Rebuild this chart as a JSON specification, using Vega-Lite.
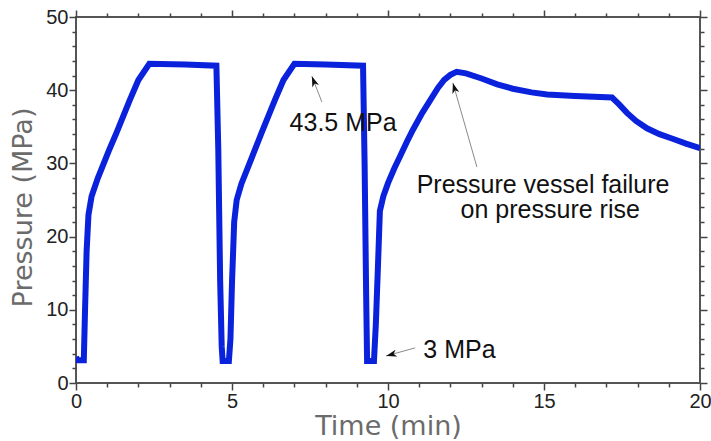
{
  "$schema": "https://vega.github.io/schema/vega-lite/v6.json",
  "width": 624,
  "height": 366,
  "autosize": "none",
  "padding": {"left": 76, "top": 17, "right": 11, "bottom": 58},
  "background": "white",
  "config": {
    "view": {"stroke": "#555555", "strokeWidth": 2},
    "axis": {
      "domain": false,
      "grid": false,
      "labelFont": "Liberation Sans",
      "labelFontSize": 20,
      "labelColor": "#222222",
      "titleFont": "DejaVu Sans",
      "titleFontSize": 27,
      "titleFontWeight": "normal",
      "titleColor": "#6b6b6b",
      "labelOverlap": false,
      "labelFlush": false
    }
  },
  "datasets": {
    "pressure": [
      {"t": 0, "p": 3.6}, {"t": 0.04, "p": 3.1}, {"t": 0.25, "p": 3.1}, {"t": 0.29, "p": 10},
      {"t": 0.34, "p": 18}, {"t": 0.4, "p": 23}, {"t": 0.5, "p": 25.5}, {"t": 0.7, "p": 28},
      {"t": 1.06, "p": 31.8}, {"t": 1.3, "p": 34.2}, {"t": 1.73, "p": 38.7}, {"t": 2.0, "p": 41.4},
      {"t": 2.35, "p": 43.6}, {"t": 3.5, "p": 43.5}, {"t": 4.5, "p": 43.35}, {"t": 4.56, "p": 32},
      {"t": 4.62, "p": 14}, {"t": 4.67, "p": 5}, {"t": 4.7, "p": 3.0}, {"t": 4.9, "p": 3.0},
      {"t": 4.95, "p": 6}, {"t": 5.0, "p": 13.7}, {"t": 5.07, "p": 22}, {"t": 5.15, "p": 25},
      {"t": 5.3, "p": 27.2}, {"t": 5.71, "p": 31.6}, {"t": 5.95, "p": 34.2}, {"t": 6.38, "p": 38.7},
      {"t": 6.65, "p": 41.4}, {"t": 7.0, "p": 43.6}, {"t": 8.0, "p": 43.5}, {"t": 9.2, "p": 43.35},
      {"t": 9.25, "p": 30}, {"t": 9.3, "p": 12}, {"t": 9.33, "p": 3.0}, {"t": 9.55, "p": 3.0},
      {"t": 9.61, "p": 8}, {"t": 9.67, "p": 15}, {"t": 9.74, "p": 23.5}, {"t": 9.85, "p": 25.5},
      {"t": 10.0, "p": 27.3}, {"t": 10.2, "p": 29.3}, {"t": 10.38, "p": 30.9}, {"t": 10.6, "p": 32.9},
      {"t": 10.8, "p": 34.6}, {"t": 11.1, "p": 36.9}, {"t": 11.35, "p": 38.6},
      {"t": 11.6, "p": 40.3}, {"t": 11.8, "p": 41.4}, {"t": 12.0, "p": 42.1}, {"t": 12.2, "p": 42.5}, {"t": 12.5, "p": 42.3},
      {"t": 13.0, "p": 41.6}, {"t": 13.5, "p": 40.8}, {"t": 14.0, "p": 40.2}, {"t": 14.6, "p": 39.7},
      {"t": 15.1, "p": 39.4}, {"t": 16.0, "p": 39.2}, {"t": 17.18, "p": 39.0}, {"t": 17.4, "p": 38.1},
      {"t": 17.66, "p": 36.9}, {"t": 17.95, "p": 35.8}, {"t": 18.3, "p": 34.8}, {"t": 18.7, "p": 34.0},
      {"t": 19.1, "p": 33.4}, {"t": 19.55, "p": 32.7}, {"t": 20.0, "p": 32.1}
    ],
    "arrows": [
      {"name": "a", "t0": 7.88, "p0": 38.4, "t1": 7.56, "p1": 41.9},
      {"name": "b", "t0": 12.85, "p0": 29.5, "t1": 12.08, "p1": 41.0},
      {"name": "c", "t0": 10.87, "p0": 4.8, "t1": 9.94, "p1": 3.7}
    ],
    "notes": [
      {"t": 8.56, "p": 34.4, "text": "43.5 MPa"},
      {"t": 14.97, "p": 26.0, "text": "Pressure vessel failure"},
      {"t": 15.2, "p": 22.5, "text": "on pressure rise"},
      {"t": 12.29, "p": 3.4, "text": "3 MPa"}
    ]
  },
  "layer": [
    {
      "data": {"name": "pressure"},
      "mark": {"type": "line", "color": "#0a22dc", "strokeWidth": 6, "strokeJoin": "miter", "clip": true},
      "encoding": {
        "x": {
          "field": "t", "type": "quantitative",
          "scale": {"domain": [0, 20], "nice": false, "zero": false},
          "axis": {
            "orient": "bottom",
            "values": [0, 5, 10, 15, 20],
            "ticks": true, "tickColor": "#444444", "tickWidth": 1.5,
            "tickSize": 7, "labelPadding": 1,
            "title": "Time (min)", "titleY": 51, "titleBaseline": "alphabetic"
          }
        },
        "y": {
          "field": "p", "type": "quantitative",
          "scale": {"domain": [0, 50], "nice": false, "zero": false},
          "axis": {
            "orient": "left",
            "values": [0, 10, 20, 30, 40, 50],
            "ticks": true, "tickColor": "#444444", "tickWidth": 1.5,
            "tickSize": 7, "labelPadding": 1,
            "title": "Pressure (MPa)", "titleX": -45, "titleY": 190, "titleBaseline": "alphabetic"
          }
        }
      }
    },
    {
      "data": {"name": "arrows"},
      "mark": {"type": "rule", "color": "#8a8a8a", "strokeWidth": 1},
      "encoding": {
        "x": {
          "field": "t0", "type": "quantitative",
          "axis": {"orient": "top", "values": [0, 5, 10, 15, 20], "labels": false, "ticks": true, "tickColor": "#444444", "tickWidth": 1.5, "tickSize": 7, "title": null}
        },
        "y": {
          "field": "p0", "type": "quantitative",
          "axis": {"orient": "right", "values": [0, 10, 20, 30, 40, 50], "labels": false, "ticks": true, "tickColor": "#444444", "tickWidth": 1.5, "tickSize": 7, "title": null}
        },
        "x2": {"field": "t1"},
        "y2": {"field": "p1"}
      }
    },
    {
      "data": {"name": "arrows"},
      "transform": [{"filter": "datum.name === 'a'"}],
      "mark": {"type": "point", "shape": "M0,0L-0.5,1.5L0,1.1L0.5,1.5Z", "filled": true, "color": "#111111", "opacity": 1, "size": 200, "angle": -21},
      "encoding": {
        "x": {
          "field": "t1", "type": "quantitative",
          "axis": {"orient": "bottom", "values": [1,2,3,4,6,7,8,9,11,12,13,14,16,17,18,19], "labels": false, "ticks": true, "tickColor": "#444444", "tickWidth": 1.5, "tickSize": 4, "title": null}
        },
        "y": {
          "field": "p1", "type": "quantitative",
          "axis": {"orient": "left", "values": [2,4,6,8,12,14,16,18,22,24,26,28,32,34,36,38,42,44,46,48], "labels": false, "ticks": true, "tickColor": "#444444", "tickWidth": 1.5, "tickSize": 4, "title": null}
        }
      }
    },
    {
      "data": {"name": "arrows"},
      "transform": [{"filter": "datum.name === 'b'"}],
      "mark": {"type": "point", "shape": "M0,0L-0.5,1.5L0,1.1L0.5,1.5Z", "filled": true, "color": "#111111", "opacity": 1, "size": 200, "angle": -16},
      "encoding": {
        "x": {
          "field": "t1", "type": "quantitative",
          "axis": {"orient": "top", "values": [1,2,3,4,6,7,8,9,11,12,13,14,16,17,18,19], "labels": false, "ticks": true, "tickColor": "#444444", "tickWidth": 1.5, "tickSize": 4, "title": null}
        },
        "y": {
          "field": "p1", "type": "quantitative",
          "axis": {"orient": "right", "values": [2,4,6,8,12,14,16,18,22,24,26,28,32,34,36,38,42,44,46,48], "labels": false, "ticks": true, "tickColor": "#444444", "tickWidth": 1.5, "tickSize": 4, "title": null}
        }
      }
    },
    {
      "data": {"name": "arrows"},
      "transform": [{"filter": "datum.name === 'c'"}],
      "mark": {"type": "point", "shape": "M0,0L-0.5,1.5L0,1.1L0.5,1.5Z", "filled": true, "color": "#111111", "opacity": 1, "size": 200, "angle": -105},
      "encoding": {
        "x": {"field": "t1", "type": "quantitative", "axis": null},
        "y": {"field": "p1", "type": "quantitative", "axis": null}
      }
    },
    {
      "data": {"name": "notes"},
      "mark": {"type": "text", "font": "Liberation Sans", "fontSize": 25, "color": "#111111", "align": "center", "baseline": "alphabetic"},
      "encoding": {
        "x": {"field": "t", "type": "quantitative", "axis": null},
        "y": {"field": "p", "type": "quantitative", "axis": null},
        "text": {"field": "text"}
      }
    }
  ],
  "resolve": {"axis": {"x": "independent", "y": "independent"}}
}
